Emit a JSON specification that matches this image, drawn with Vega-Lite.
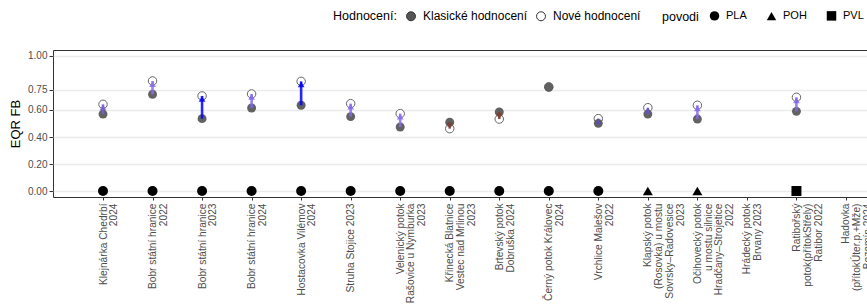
{
  "$schema": "https://vega.github.io/schema/vega-lite/v6.json",
  "width": 814,
  "height": 147,
  "autosize": {"type": "none"},
  "padding": {"left": 53, "top": 50, "right": 0, "bottom": 111},
  "background": "white",
  "view": {"stroke": "#333333", "strokeWidth": 1},
  "config": {
    "font": "Liberation Sans",
    "view": {"stroke": "#333333", "strokeWidth": 1},
    "axis": {"gridColor": "#ebebeb", "gridWidth": 1.3, "domain": false, "tickColor": "#333333", "labelColor": "#4d4d4d"},
    "axisY": {"labelFontSize": 10, "labelOverlap": false, "labelFlush": false, "labelBound": false, "tickCount": 20, "tickSize": 4, "labelPadding": 2, "grid": true, "titleFontSize": 13, "titleFontWeight": "normal", "titleColor": "#000000", "titlePadding": 5}
  },
  "data": {
    "values": [
      {"lokalita": "Klejnárka Chedrbí|2024", "klasicke": 0.570, "nove": 0.642, "zmena": 0.072, "povodi": "PLA"},
      {"lokalita": "Bobr státní hranice|2022", "klasicke": 0.716, "nove": 0.815, "zmena": 0.099, "povodi": "PLA"},
      {"lokalita": "Bobr státní hranice|2023", "klasicke": 0.536, "nove": 0.704, "zmena": 0.168, "povodi": "PLA"},
      {"lokalita": "Bobr státní hranice|2024", "klasicke": 0.615, "nove": 0.719, "zmena": 0.104, "povodi": "PLA"},
      {"lokalita": "Hostacovka Vilémov|2024", "klasicke": 0.635, "nove": 0.812, "zmena": 0.177, "povodi": "PLA"},
      {"lokalita": "Struha Stojice 2023", "klasicke": 0.551, "nove": 0.647, "zmena": 0.096, "povodi": "PLA"},
      {"lokalita": "Velenický potok|Rašovice u Nymburka|2023", "klasicke": 0.474, "nove": 0.573, "zmena": 0.099, "povodi": "PLA"},
      {"lokalita": "Křinecká Blatnice|Vestec nad Mrlinou|2023", "klasicke": 0.509, "nove": 0.462, "zmena": -0.047, "povodi": "PLA"},
      {"lokalita": "Brtevský potok|Dobruška 2024", "klasicke": 0.585, "nove": 0.533, "zmena": -0.052, "povodi": "PLA"},
      {"lokalita": "Černý potok Královec|2024", "klasicke": 0.768, "nove": 0.772, "zmena": 0.004, "povodi": "PLA"},
      {"lokalita": "Vrchlice Malešov|2022", "klasicke": 0.501, "nove": 0.536, "zmena": 0.035, "povodi": "PLA"},
      {"lokalita": "Klapský potok|(Rosovka) u mostu|Sovrsky–Radovesice|2023", "klasicke": 0.570, "nove": 0.617, "zmena": 0.047, "povodi": "POH"},
      {"lokalita": "Očihovecký potok|u mostu silnice|Hradčany–Strojetice|2022", "klasicke": 0.533, "nove": 0.635, "zmena": 0.102, "povodi": "POH"},
      {"lokalita": "Hrádecký potok|Brvany 2023", "klasicke": null, "nove": null, "zmena": null, "povodi": "POH"},
      {"lokalita": "Ratibořský|potok(přítokStřely)|Ratibor 2022", "klasicke": 0.590, "nove": 0.694, "zmena": 0.104, "povodi": "PVL"},
      {"lokalita": "Hadovka|(přítokÚter.p.+Mže)|Bezemín 2024", "klasicke": null, "nove": null, "zmena": null, "povodi": "PVL"}
    ]
  },
  "transform": [{"fold": ["klasicke", "nove"], "as": ["typ", "hodnota"]}],
  "encoding": {
    "x": {
      "field": "lokalita",
      "type": "nominal",
      "scale": {
        "type": "point",
        "padding": 0.717,
        "align": 0.704,
        "domain": [
          "Klejnárka Chedrbí|2024", "Bobr státní hranice|2022", "Bobr státní hranice|2023", "Bobr státní hranice|2024",
          "Hostacovka Vilémov|2024", "Struha Stojice 2023", "Velenický potok|Rašovice u Nymburka|2023",
          "Křinecká Blatnice|Vestec nad Mrlinou|2023", "Brtevský potok|Dobruška 2024", "Černý potok Královec|2024",
          "Vrchlice Malešov|2022", "Klapský potok|(Rosovka) u mostu|Sovrsky–Radovesice|2023",
          "Očihovecký potok|u mostu silnice|Hradčany–Strojetice|2022", "Hrádecký potok|Brvany 2023",
          "Ratibořský|potok(přítokStřely)|Ratibor 2022", "Hadovka|(přítokÚter.p.+Mže)|Bezemín 2024"
        ]
      },
      "axis": {
        "title": null,
        "labelAngle": 270,
        "labelAlign": "right",
        "labelBaseline": "middle",
        "labelFontSize": 10.2,
        "labelLineHeight": 10.8,
        "labelPadding": 3,
        "tickSize": 3,
        "labelLimit": 500,
        "labelOverlap": false,
        "labelExpr": "split(datum.value, '|')"
      }
    },
    "y": {
      "field": "hodnota",
      "type": "quantitative",
      "scale": {"domain": [-0.0444, 1.0444], "nice": false, "zero": false},
      "title": "EQR FB",
      "axis": {"values": [0, 0.2, 0.4, 0.6, 0.75, 1], "tickCount": 20, "format": ".2f", "labelOverlap": false}
    }
  },
  "layer": [
    {
      "transform": [{"filter": "datum.typ == 'nove'"}],
      "mark": {"type": "point", "filled": true, "shape": "circle", "size": 72, "stroke": "#666666", "strokeWidth": 1, "opacity": 1},
      "encoding": {
        "fill": {
          "datum": "Nové hodnocení",
          "type": "nominal",
          "scale": {"domain": ["Klasické hodnocení", "Nové hodnocení"], "range": ["#555555", "#ffffff"]},
          "legend": {
            "title": "Hodnocení:",
            "orient": "none",
            "legendX": 280,
            "legendY": -40,
            "direction": "horizontal",
            "titleOrient": "left",
            "titleFontSize": 12.5,
            "titleFontWeight": "normal",
            "titleColor": "#000000",
            "titlePadding": 8,
            "labelFontSize": 12,
            "labelColor": "#000000",
            "symbolType": "circle",
            "symbolSize": 80,
            "symbolStrokeColor": "#333333",
            "symbolStrokeWidth": 1,
            "labelOffset": 6,
            "columnPadding": 6
          }
        }
      }
    },
    {
      "transform": [{"filter": "datum.typ == 'klasicke'"}],
      "mark": {"type": "point", "filled": true, "shape": "circle", "size": 80, "strokeWidth": 0, "opacity": 0.92},
      "encoding": {
        "fill": {"datum": "Klasické hodnocení", "type": "nominal"}
      }
    },
    {
      "transform": [{"filter": "datum.zmena > 0.01 || datum.zmena < -0.01"}],
      "mark": {"type": "line", "strokeWidth": 2.6, "opacity": 0.85},
      "encoding": {
        "detail": {"field": "lokalita", "type": "nominal"},
        "color": {
          "field": "zmena",
          "type": "quantitative",
          "scale": {"domain": [-0.05, 0, 0.1, 0.17], "range": ["#7e3f33", "#4a3a8a", "#8c6cf0", "#0000ff"], "interpolate": "rgb"},
          "legend": null
        }
      }
    },
    {
      "transform": [{"filter": "datum.typ == 'nove' && datum.zmena > 0.01"}],
      "mark": {"type": "point", "shape": "triangle-up", "filled": true, "size": 45, "opacity": 0.85, "yOffset": 3},
      "encoding": {
        "color": {"field": "zmena", "type": "quantitative", "legend": null}
      }
    },
    {
      "transform": [{"filter": "datum.typ == 'nove' && datum.zmena < -0.01"}],
      "mark": {"type": "point", "shape": "triangle-down", "filled": true, "size": 45, "opacity": 0.85, "yOffset": -3},
      "encoding": {
        "color": {"field": "zmena", "type": "quantitative", "legend": null}
      }
    },
    {
      "transform": [{"filter": "datum.typ == 'klasicke'"}],
      "mark": {"type": "point", "filled": true, "color": "#000000", "size": 100, "opacity": 1},
      "encoding": {
        "y": {"datum": 0, "type": "quantitative"},
        "shape": {
          "field": "povodi",
          "type": "nominal",
          "scale": {"domain": ["PLA", "POH", "PVL"], "range": ["circle", "triangle-up", "square"]},
          "legend": {
            "title": "povodi",
            "orient": "none",
            "legendX": 609,
            "legendY": -40,
            "direction": "horizontal",
            "titleOrient": "left",
            "titleFontSize": 12.5,
            "titleFontWeight": "normal",
            "titleColor": "#000000",
            "titlePadding": 10,
            "labelFontSize": 11,
            "labelColor": "#000000",
            "symbolSize": 90,
            "symbolFillColor": "#000000",
            "symbolStrokeColor": "#000000",
            "labelOffset": 6,
            "columnPadding": 16
          }
        }
      }
    }
  ]
}
